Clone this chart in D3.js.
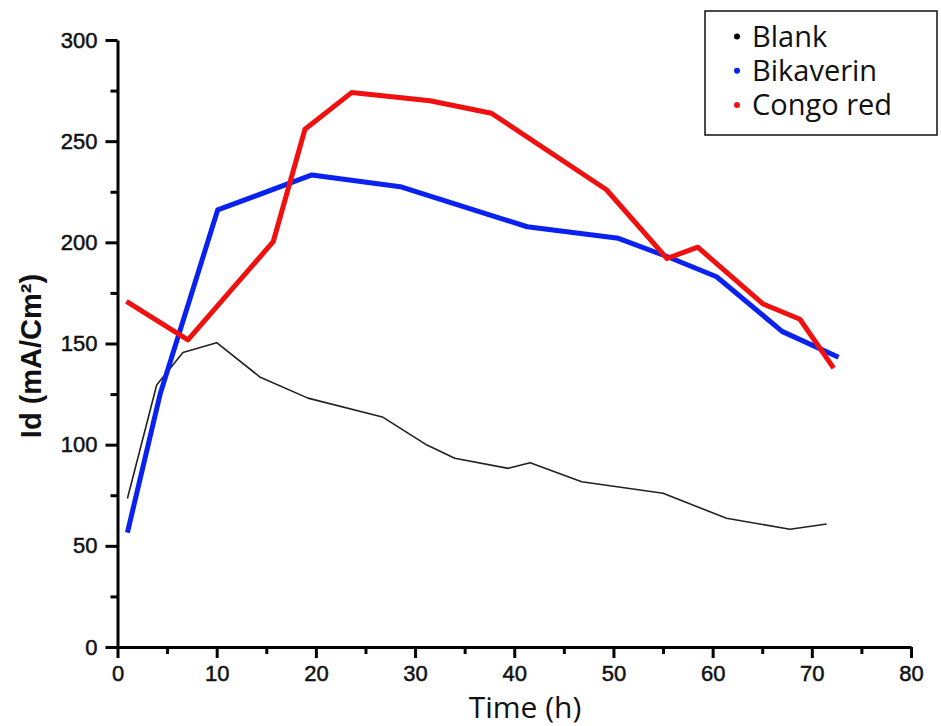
<!DOCTYPE html>
<html>
<head>
<meta charset="utf-8">
<script src="https://cdn.jsdelivr.net/npm/d3@7"></script>
<style>
  body { margin: 0; background: #fff; }
  svg { display: block; }
</style>
</head>
<body>
<div id="chart"></div>
<script>
// values
const blankTime = [1, 3.95, 6.6, 10, 14.4, 19.2, 26.7, 31.2, 34, 39.4, 41.6, 46.8, 55, 61.4, 67.8, 71.5];
const blankId   = [73.4, 129.5, 145.5, 150.4, 133.3, 123, 113.7, 99.8, 93.3, 88.3, 91.1, 81.7, 76, 63.6, 58.2, 60.8];

const bikaTime = [1, 4.3, 7.3, 10.1, 19.6, 28.5, 41.3, 50.5, 55.4, 60.4, 67, 72.7];
const bikaId   = [56.5, 125, 172, 216, 233.3, 227.5, 207.7, 202, 193, 183, 156, 143.2];

const congoTime = [0.9, 7.1, 15.7, 18.9, 23.6, 31.5, 37.7, 49.3, 55.4, 58.5, 65.1, 68.8, 72.2];
const congoId   = [170.8, 151.8, 200.3, 255.9, 274, 270, 263.8, 226, 192, 197.6, 169.5, 162, 137.8];

const seriesNames = ["Blank", "Bikaverin", "Congo red"];
const xTicks = [0, 10, 20, 30, 40, 50, 60, 70, 80];
const yTicks = [0, 50, 100, 150, 200, 250, 300];

const width = 941, height = 726;

const svg = d3.select("#chart")
  .append("svg")
  .attr("width", width)
  .attr("height", height);

const x = d3.scaleLinear().domain([0, 80]).range([117.5, 911]);
const y = d3.scaleLinear().domain([0, 300]).range([647, 40]);

const series = [
  { name: seriesNames[0], t: blankTime, v: blankId, color: "#222", dot: "#000", w: 1.6 },
  { name: seriesNames[1], t: bikaTime, v: bikaId, color: "#0a22f0", dot: "#0a22f0", w: 5 },
  { name: seriesNames[2], t: congoTime, v: congoId, color: "#f01010", dot: "#f01010", w: 5 }
];

const line = d3.line()
  .x(d => x(d[0]))
  .y(d => y(d[1]));

series.forEach(s => {
  svg.append("path")
    .datum(s.t.map((t, j) => [t, s.v[j]]))
    .attr("fill", "none")
    .attr("stroke", s.color)
    .attr("stroke-width", s.w)
    .attr("stroke-linejoin", "round")
    .attr("d", line);
});

// minor ticks
svg.append("g")
  .attr("transform", `translate(${x(0)},0)`)
  .call(d3.axisLeft(y).tickValues(d3.range(25, 300, 50)).tickSize(7).tickFormat(""))
  .call(g => g.select(".domain").remove())
  .call(g => g.selectAll("line").attr("stroke-width", 3));

svg.append("g")
  .attr("transform", `translate(0,${y(0)})`)
  .call(d3.axisBottom(x).tickValues(d3.range(5, 80, 10)).tickSize(7).tickFormat(""))
  .call(g => g.select(".domain").remove())
  .call(g => g.selectAll("line").attr("stroke-width", 3));

// major axes
const yAxis = svg.append("g")
  .attr("transform", `translate(${x(0)},0)`)
  .call(d3.axisLeft(y).tickValues(yTicks).tickSize(12).tickSizeOuter(0).tickPadding(8));

const xAxis = svg.append("g")
  .attr("transform", `translate(0,${y(0)})`)
  .call(d3.axisBottom(x).tickValues(xTicks).tickSize(11).tickSizeOuter(0).tickPadding(7));

[yAxis, xAxis].forEach(g => {
  g.select(".domain").attr("stroke-width", 3);
  g.selectAll(".tick line").attr("stroke-width", 3);
  g.selectAll(".tick text")
    .attr("font-family", "Liberation Sans, Arial, sans-serif")
    .attr("font-size", 22)
    .attr("fill", "#111")
    .attr("stroke", "#111")
    .attr("stroke-width", 0.5);
});

// axis titles
svg.append("text")
  .attr("transform", `translate(41,356) rotate(-90)`)
  .attr("text-anchor", "middle")
  .attr("font-family", "Liberation Sans, Arial, sans-serif")
  .attr("font-weight", "bold")
  .attr("font-size", 29)
  .attr("fill", "#111")
  .text("Id (mA/Cm²)");

svg.append("text")
  .attr("x", 525)
  .attr("y", 718)
  .attr("text-anchor", "middle")
  .attr("font-family", "Open Sans, sans-serif")
  .attr("font-size", 30)
  .attr("fill", "#111")
  .text("Time (h)");

// legend
const legend = svg.append("g");
legend.append("rect")
  .attr("x", 705).attr("y", 11)
  .attr("width", 232).attr("height", 124)
  .attr("fill", "#fff")
  .attr("stroke", "#111")
  .attr("stroke-width", 1.5);

series.forEach((s, i) => {
  const by = 46.5 + i * 34.2;
  legend.append("circle")
    .attr("cx", 737).attr("cy", by - 10)
    .attr("r", 3)
    .attr("fill", s.dot);
  legend.append("text")
    .attr("x", 752).attr("y", by)
    .attr("font-family", "Open Sans, sans-serif")
    .attr("font-size", 29)
    .attr("fill", "#111")
    .text(s.name);
});
</script>
</body>
</html>
